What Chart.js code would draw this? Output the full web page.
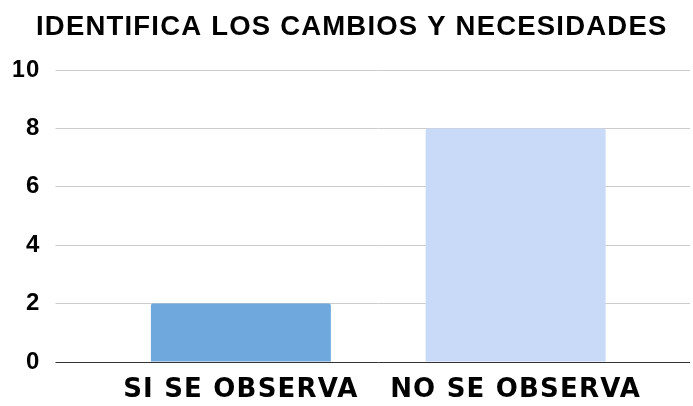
<!DOCTYPE html>
<html>
<head>
<meta charset="utf-8">
<script src="https://cdn.jsdelivr.net/npm/chart.js@4.4.1/dist/chart.umd.min.js"></script>
<style>
  html, body { margin: 0; padding: 0; background: #ffffff; }
  #wrap { width: 693px; height: 406px; }
</style>
</head>
<body>
<div id="wrap"><canvas id="c" width="693" height="406"></canvas></div>
<script>
const categories = ['SI SE OBSERVA', 'NO SE OBSERVA'];
const counts = [2, 8];
const barColors = ['#6fa8dc', '#c9daf8'];
const yTicks = [0, 2, 4, 6, 8, 10];
const chartTitle = 'IDENTIFICA LOS CAMBIOS Y NECESIDADES';

const FONT = "'Liberation Sans', Arial, Helvetica, sans-serif";
const WIDE_FONT = "'DejaVu Sans', 'Liberation Sans', Arial, sans-serif";
// zero baseline is darker than the other grid lines
const gridColor = ctx => (ctx.tick && ctx.tick.value === 0) ? '#333333' : '#cccccc';

// slightly tracked-out lettering, applied both when text is measured and drawn
const tracking = {
  id: 'tracking',
  beforeLayout(chart) { chart.ctx.letterSpacing = '1.2px'; },
  beforeDraw(chart) { chart.ctx.letterSpacing = '1.2px'; }
};

new Chart(document.getElementById('c'), {
  type: 'bar',
  data: {
    labels: categories,
    datasets: [{
      data: counts,
      backgroundColor: barColors,
      borderWidth: 0,
      borderRadius: { topLeft: 2, topRight: 2 },
      borderSkipped: 'bottom',
      barPercentage: 0.655,
      categoryPercentage: 1.0
    }]
  },
  plugins: [tracking],
  options: {
    responsive: false,
    animation: false,
    layout: { padding: { left: 13.5, right: 3, top: 0, bottom: 0 } },
    plugins: {
      legend: { display: false },
      tooltip: { enabled: false },
      title: {
        display: true,
        text: chartTitle,
        color: '#000000',
        font: { family: FONT, size: 27.5, weight: 'bold' },
        padding: { top: 11, bottom: 26 }
      }
    },
    scales: {
      x: {
        grid: { display: false, drawTicks: false },
        border: { display: false },
        afterFit: axis => { axis.height = 44; },
        ticks: {
          color: '#000000',
          font: { family: WIDE_FONT, size: 26, weight: 'bold' },
          padding: 13,
          maxRotation: 0,
          autoSkip: false
        }
      },
      y: {
        min: 0,
        max: 10,
        afterBuildTicks: axis => { axis.ticks = yTicks.map(v => ({ value: v })); },
        afterFit: axis => { axis.width = 90; },
        grid: { color: gridColor, lineWidth: 1, tickLength: 48, drawTicks: true },
        border: { display: false },
        ticks: {
          color: '#000000',
          font: { family: FONT, size: 24, weight: 'bold' },
          padding: 15
        }
      },
      yRight: {
        position: 'right',
        min: 0,
        max: 10,
        afterBuildTicks: axis => { axis.ticks = yTicks.map(v => ({ value: v })); },
        afterFit: axis => { axis.width = 37; },
        grid: { color: gridColor, lineWidth: 1, tickLength: 37, drawTicks: true, drawOnChartArea: false },
        border: { display: false },
        ticks: { display: false, padding: 0 }
      }
    }
  }
});
</script>
</body>
</html>
